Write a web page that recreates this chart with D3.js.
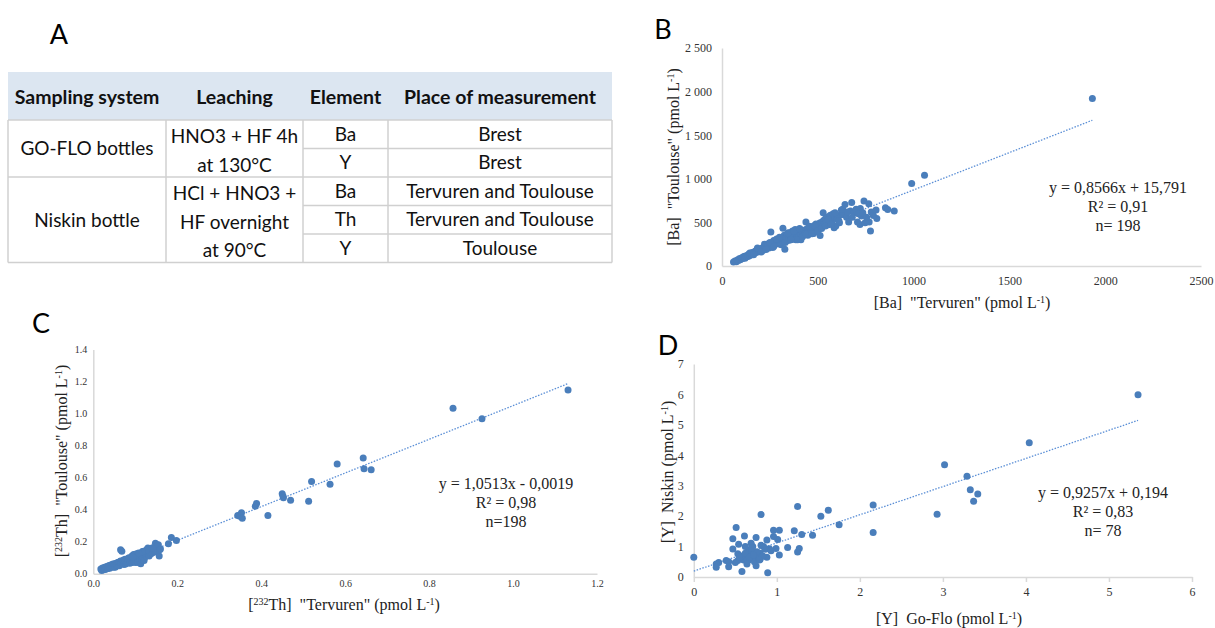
<!DOCTYPE html>
<html>
<head>
<meta charset="utf-8">
<script src="https://cdn.jsdelivr.net/npm/d3@7/dist/d3.min.js"></script>
<style>
  body { margin: 0; background: #fff; }
  svg { display: block; }
  text { white-space: pre; }
</style>
</head>
<body>
<script>
width  = 1215
height = 628

// ---------- table (panel A) ----------
const tableHeader = ["Sampling system", "Leaching", "Element", "Place of measurement"];
const samplingGroups = ["GO-FLO bottles", "Niskin bottle"];
const leachingLines = ["HNO3 + HF 4h", "at 130°C", "HCl + HNO3 +", "HF overnight", "at 90°C"];
const elements = ["Ba", "Y", "Ba", "Th", "Y"];
const places = ["Brest", "Brest", "Tervuren and Toulouse", "Tervuren and Toulouse", "Toulouse"];

// ---------- panel B : Ba, Tervuren vs Toulouse ----------
const baPoints = [
  [60,45],[68,58],[75,50],[80,70],[85,62],[90,82],[95,72],[100,92],[105,84],[110,102],
  [115,95],[118,112],[120,88],[125,116],[130,105],[135,126],[138,112],[140,136],[145,120],[150,142],
  [152,128],[155,152],[160,136],[162,156],[165,145],[170,162],[172,150],[175,172],[180,156],[183,180],
  [185,166],[190,182],[192,168],[195,192],[200,176],[203,196],[205,186],[210,206],[212,178],[215,200],
  [220,190],[222,250],[225,216],[228,200],[230,236],[235,212],[238,252],[240,226],[245,206],[248,242],
  [250,222],[255,389],[255,252],[258,232],[260,266],[262,242],[265,212],[268,258],[270,292],[275,246],
  [278,272],[280,252],[285,282],[290,262],[292,302],[295,276],[300,252],[303,292],[305,312],[310,272],
  [315,302],[318,432],[320,322],[322,282],[325,352],[328,191],[330,302],[335,332],[338,312],[340,366],
  [345,292],[348,342],[350,322],[355,382],[358,302],[360,352],[365,332],[368,402],[370,312],[375,362],
  [380,342],[382,420],[385,302],[390,372],[395,352],[398,396],[400,332],[405,382],[410,362],[412,300],
  [415,412],[420,382],[425,352],[430,402],[435,372],[438,504],[440,422],[445,392],[448,352],[450,432],
  [455,402],[460,382],[465,446],[470,412],[475,432],[478,372],[480,462],[485,422],[490,482],[492,402],
  [495,446],[500,462],[505,432],[510,492],[512,351],[515,472],[520,502],[525,456],[528,611],[530,522],
  [535,482],[540,542],[545,502],[550,562],[555,472],[560,522],[565,582],[570,546],[575,515],[580,600],
  [585,439],[590,562],[594,458],[600,540],[604,553],[613,496],[620,590],[623,641],[632,592],[642,706],
  [650,560],[661,504],[670,630],[677,729],[690,610],[707,504],[720,477],[722,660],[728,573],[741,744],
  [747,496],[766,714],[768,504],[775,401],[779,618],[804,641],[808,546],[853,668],[865,649],[899,630],
  [990,947],[1057,1042],[1933,1920],
  [145,150],[165,128],[185,205],[205,160],[230,190],[250,270],[270,225],[285,310],[300,330],[310,245],
  [330,270],[345,380],[360,300],[375,400],[395,300],[405,430],[420,335],[440,365],[455,455],[470,370],
  [485,460],[500,400],[520,430],[540,460],[555,530],[570,480],[590,610],[610,520],[630,650],[655,620],
  [680,560],[700,650],[712,600],[735,610],[755,560],[790,580]
];
const baFit = { slope: 0.8566, intercept: 15.791, from: 60, to: 1933 };
const baEquation = ["y = 0,8566x + 15,791", "R² = 0,91", "n= 198"];
const baXTicks = [0, 500, 1000, 1500, 2000, 2500];
const baYTicks = [0, 500, 1000, 1500, 2000, 2500];

// ---------- panel C : 232Th, Tervuren vs Toulouse ----------
const thPoints = [
  [0.018,0.030],[0.020,0.020],[0.021,0.028],[0.022,0.035],[0.024,0.024],[0.025,0.032],[0.027,0.040],[0.028,0.026],
  [0.030,0.030],[0.031,0.038],[0.032,0.045],[0.034,0.032],[0.035,0.036],[0.036,0.048],[0.037,0.050],[0.039,0.034],
  [0.040,0.040],[0.041,0.052],[0.042,0.055],[0.044,0.044],[0.045,0.045],[0.046,0.058],[0.047,0.060],[0.048,0.040],
  [0.050,0.050],[0.051,0.062],[0.052,0.040],[0.053,0.056],[0.055,0.065],[0.056,0.048],[0.057,0.055],[0.058,0.070],
  [0.060,0.070],[0.061,0.058],[0.062,0.050],[0.063,0.075],[0.065,0.150],[0.068,0.140],[0.065,0.080],[0.066,0.062],
  [0.068,0.072],[0.070,0.065],[0.071,0.080],[0.072,0.085],[0.073,0.058],[0.075,0.070],[0.076,0.090],[0.077,0.060],
  [0.078,0.078],[0.080,0.090],[0.081,0.070],[0.082,0.075],[0.083,0.095],[0.085,0.100],[0.086,0.082],[0.087,0.065],
  [0.088,0.078],[0.090,0.085],[0.091,0.100],[0.092,0.110],[0.093,0.070],[0.095,0.095],[0.096,0.120],[0.097,0.075],
  [0.098,0.088],[0.100,0.120],[0.100,0.100],[0.101,0.070],[0.102,0.085],[0.103,0.125],[0.105,0.110],[0.106,0.092],
  [0.107,0.070],[0.108,0.118],[0.110,0.100],[0.111,0.080],[0.112,0.125],[0.113,0.062],[0.115,0.090],[0.116,0.108],
  [0.118,0.115],[0.119,0.098],[0.120,0.140],[0.121,0.082],[0.122,0.100],[0.124,0.120],[0.125,0.130],[0.126,0.110],
  [0.128,0.120],[0.130,0.160],[0.131,0.128],[0.133,0.110],[0.135,0.140],[0.137,0.125],[0.140,0.130],[0.142,0.160],
  [0.145,0.150],[0.147,0.135],[0.148,0.190],[0.150,0.140],[0.151,0.175],[0.152,0.170],[0.154,0.160],[0.155,0.180],
  [0.157,0.110],[0.158,0.150],[0.160,0.155],[0.140,0.160],[0.127,0.150],[0.117,0.138],[0.108,0.130],[0.094,0.104],
  [0.179,0.187],[0.186,0.226],[0.198,0.207],
  [0.344,0.363],[0.349,0.359],[0.353,0.380],[0.355,0.346],[0.386,0.421],[0.389,0.438],[0.416,0.363],
  [0.450,0.500],[0.452,0.483],[0.453,0.475],[0.470,0.459],[0.513,0.452],[0.520,0.575],[0.564,0.558],
  [0.581,0.685],[0.643,0.722],[0.645,0.656],[0.662,0.649],[0.857,1.033],[0.926,0.967],[1.131,1.147]
];
const thFit = { slope: 1.0513, intercept: -0.0019, from: 0.018, to: 1.131 };
const thEquation = ["y = 1,0513x - 0,0019", "R² = 0,98", "n=198"];
const thXTicks = [0, 0.2, 0.4, 0.6, 0.8, 1.0, 1.2];
const thYTicks = [0, 0.2, 0.4, 0.6, 0.8, 1.0, 1.2, 1.4];

// ---------- panel D : Y, Go-Flo vs Niskin ----------
const yPoints = [
  [0.00,0.65],[5.35,5.99],[4.04,4.41],[3.02,3.69],[3.29,3.31],[3.33,2.87],[3.42,2.73],[3.37,2.49],
  [2.93,2.06],[2.16,2.37],[2.16,1.46],[1.75,1.72],[1.62,2.19],[1.53,2.00],[1.43,1.37],[1.30,1.40],
  [1.25,2.32],[1.21,1.52],[1.27,0.94],[1.25,0.82],[1.13,0.97],[1.03,1.54],[1.01,1.23],[1.03,0.72],
  [0.96,1.54],[0.96,1.33],[0.99,0.94],[0.81,2.05],[0.91,0.93],[0.88,0.65],[0.89,0.14],[0.84,1.00],
  [0.81,1.04],[0.80,0.78],[0.80,0.58],[0.75,0.37],[0.75,1.30],[0.71,1.00],[0.69,0.78],[0.71,0.61],
  [0.66,0.89],[0.66,0.56],[0.64,0.72],[0.62,1.00],[0.61,1.35],[0.59,0.67],[0.58,0.18],[0.56,0.61],
  [0.54,1.08],[0.53,0.54],[0.51,1.63],[0.50,0.48],[0.47,1.26],[0.47,0.92],[0.42,0.34],[0.39,0.54],
  [0.30,0.48],[0.27,0.43],[0.27,0.32],[0.73,0.50],[0.77,0.69],[0.86,0.91],[0.60,0.56],[0.57,0.69],
  [0.69,1.11],[0.76,0.83],[0.62,0.78],[0.67,0.65],[0.83,0.69],[0.93,0.86],[0.42,0.50],[0.72,0.72],
  [0.53,0.76],[0.64,0.43],[0.79,0.56],[0.88,1.22],[0.70,0.95],[0.55,0.65]
];
const yFit = { slope: 0.9257, intercept: 0.194, from: 0, to: 5.35 };
const yEquation = ["y = 0,9257x + 0,194", "R² = 0,83", "n= 78"];
const yXTicks = [0, 1, 2, 3, 4, 5, 6];
const yYTicks = [0, 1, 2, 3, 4, 5, 6, 7];

const dotColor  = "#4a7ebb";
const lineColor = "#5b8fd6";
const axisColor = "#d9d9d9";
const serif = "'Liberation Serif', 'Times New Roman', serif";
const sans  = "Lato, 'Open Sans', sans-serif";

const svg = d3.select("body").append("svg")
  .attr("width", width)
  .attr("height", height);

// panel letters
svg.selectAll("text.letter")
  .data([["A", 59, 44], ["B", 663, 39], ["C", 41, 333], ["D", 668, 355]])
  .enter().append("text")
    .attr("class", "letter")
    .attr("x", d => d[1])
    .attr("y", d => d[2])
    .attr("text-anchor", "middle")
    .attr("font-family", sans)
    .attr("font-size", 27)
    .attr("fill", "#000")
    .text(d => d[0]);

// ---------- table ----------
function drawTable() {
  const cols = [8, 166, 303, 388, 612];
  const headTop = 72, headBottom = 120;
  const rows = [120, 148.5, 177, 205.5, 234, 262.5];
  const g = svg.append("g");

  g.append("rect")
    .attr("x", cols[0]).attr("y", headTop)
    .attr("width", cols[4] - cols[0]).attr("height", headBottom - headTop)
    .attr("fill", "#dce6f1");

  const lines = [];
  cols.forEach(c => lines.push([c, rows[0], c, rows[5]]));
  [0, 2, 5].forEach(i => lines.push([cols[0], rows[i], cols[4], rows[i]]));
  [1, 3, 4].forEach(i => lines.push([cols[2], rows[i], cols[4], rows[i]]));
  g.selectAll("line").data(lines).enter().append("line")
    .attr("x1", d => d[0]).attr("y1", d => d[1])
    .attr("x2", d => d[2]).attr("y2", d => d[3])
    .attr("stroke", "#d0d0d0").attr("stroke-width", 1.5);

  const mid = i => (cols[i] + cols[i + 1]) / 2;
  const text = (s, x, y, bold) => g.append("text")
    .attr("x", x).attr("y", y).attr("dy", "0.35em")
    .attr("text-anchor", "middle")
    .attr("font-family", sans)
    .attr("font-size", bold ? 19.5 : 19)
    .attr("font-weight", bold ? 700 : 400)
    .attr("fill", "#111")
    .text(s);

  tableHeader.forEach((h, i) => text(h, mid(i), 97.5, true));
  text(samplingGroups[0], mid(0), 148.5);
  text(samplingGroups[1], mid(0), 220.5);
  const rowMid = i => (rows[i] + rows[i + 1]) / 2;
  const leachY = [136, 165, 193, 222, 250];
  leachingLines.forEach((s, i) => text(s, mid(1), leachY[i]));
  elements.forEach((s, i) => text(s, mid(2), rowMid(i)));
  places.forEach((s, i) => text(s, mid(3), rowMid(i)));
}
drawTable();

// ---------- scatter panels ----------
function scatter(cfg) {
  const x = d3.scaleLinear().domain(cfg.xDomain).range(cfg.xRange);
  const y = d3.scaleLinear().domain(cfg.yDomain).range(cfg.yRange);
  const g = svg.append("g");

  const xAxis = g.append("g")
    .attr("transform", `translate(0,${cfg.yRange[0]})`)
    .call(d3.axisBottom(x).tickValues(cfg.xTicks).tickFormat(cfg.xFormat)
      .tickSizeInner(cfg.xTickSize).tickSizeOuter(0).tickPadding(cfg.xPad));
  const yAxis = g.append("g")
    .attr("transform", `translate(${cfg.xRange[0]},0)`)
    .call(d3.axisLeft(y).tickValues(cfg.yTicks).tickFormat(cfg.yFormat)
      .tickSizeInner(0).tickSizeOuter(0).tickPadding(cfg.yPad));

  [xAxis, yAxis].forEach(a => {
    a.select(".domain").attr("stroke", axisColor).attr("stroke-width", 1.5);
    a.selectAll(".tick line").attr("stroke", axisColor).attr("stroke-width", 1.5);
    a.selectAll(".tick text")
      .attr("font-family", serif)
      .attr("font-size", cfg.tickFont)
      .attr("fill", "#333");
  });

  // trend line (dotted)
  const f = v => cfg.fit.slope * v + cfg.fit.intercept;
  g.append("path")
    .datum([cfg.fit.from, cfg.fit.to])
    .attr("d", d3.line().x(v => x(v)).y(v => y(f(v))))
    .attr("stroke", lineColor)
    .attr("stroke-width", 1.3)
    .attr("stroke-dasharray", "1.5,1.5")
    .attr("fill", "none");

  g.append("g")
    .selectAll("circle")
    .data(cfg.points)
    .enter().append("circle")
      .attr("cx", d => x(d[0]))
      .attr("cy", d => y(d[1]))
      .attr("r", cfg.r)
      .attr("fill", dotColor);

  // equation block
  g.selectAll("text.eq")
    .data(cfg.equation)
    .enter().append("text")
      .attr("class", "eq")
      .attr("x", cfg.eqX)
      .attr("y", (d, i) => cfg.eqY + i * 19)
      .attr("dy", "0.35em")
      .attr("text-anchor", "middle")
      .attr("font-family", serif)
      .attr("font-size", 16)
      .attr("fill", "#222")
      .text(d => d);

  // axis titles
  const title = (parts, tx, ty, rot) => {
    const t = g.append("text")
      .attr("transform", `translate(${tx},${ty}) rotate(${rot})`)
      .attr("text-anchor", "middle")
      .attr("dy", "0.35em")
      .attr("font-family", serif)
      .attr("font-size", 16)
      .attr("fill", "#222");
    parts.forEach(p => {
      const s = t.append("tspan").text(p[0]);
      if (p[1]) s.attr("baseline-shift", "super").attr("font-size", 10);
    });
  };
  title(cfg.xTitle, cfg.xTitlePos[0], cfg.xTitlePos[1], 0);
  title(cfg.yTitle, cfg.yTitlePos[0], cfg.yTitlePos[1], -90);
}

const spaceThousands = d => d >= 1000 ? d3.format(",")(d).replace(",", "\u00a0") : String(d);

scatter({
  points: baPoints, fit: baFit, equation: baEquation,
  xDomain: [0, 2500], xRange: [722, 1201],
  yDomain: [0, 2500], yRange: [266, 48],
  xTicks: baXTicks, yTicks: baYTicks,
  xFormat: d => String(d), yFormat: spaceThousands,
  xTickSize: 0, xPad: 10, yPad: 10, tickFont: 12, r: 3.5,
  eqX: 1118, eqY: 187,
  xTitle: [["[Ba]  \"Tervuren\" (pmol L"], ["-1", true], [")"]], xTitlePos: [962, 302],
  yTitle: [["[Ba]  \"Toulouse\" (pmol L"], ["-1", true], [")"]], yTitlePos: [673, 157]
});

scatter({
  points: thPoints, fit: thFit, equation: thEquation,
  xDomain: [0, 1.2], xRange: [93.3, 597],
  yDomain: [0, 1.4], yRange: [573.7, 349.5],
  xTicks: thXTicks, yTicks: thYTicks,
  xFormat: d3.format(".1f"), yFormat: d3.format(".1f"),
  xTickSize: 0, xPad: 6, yPad: 6, tickFont: 10, r: 3.5,
  eqX: 506, eqY: 483,
  xTitle: [["["], ["232", true], ["Th]  \"Tervuren\" (pmol L"], ["-1", true], [")"]], xTitlePos: [344, 604],
  yTitle: [["["], ["232", true], ["Th]  \"Toulouse\" (pmol L"], ["-1", true], [")"]], yTitlePos: [61, 461]
});

scatter({
  points: yPoints, fit: yFit, equation: yEquation,
  xDomain: [0, 6], xRange: [693.8, 1192],
  yDomain: [0, 7], yRange: [577, 364],
  xTicks: yXTicks, yTicks: yYTicks,
  xFormat: d3.format("d"), yFormat: d3.format("d"),
  xTickSize: 5, xPad: 5, yPad: 10, tickFont: 12, r: 3.5,
  eqX: 1103, eqY: 492,
  xTitle: [["[Y]  Go-Flo (pmol L"], ["-1", true], [")"]], xTitlePos: [949, 618],
  yTitle: [["[Y]  Niskin (pmol L"], ["-1", true], [")"]], yTitlePos: [667, 472]
});
</script>
</body>
</html>
